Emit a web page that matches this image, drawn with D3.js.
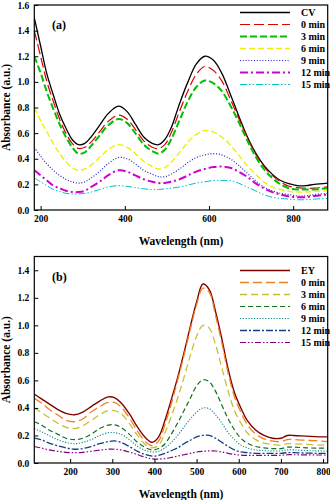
<!DOCTYPE html>
<html><head><meta charset="utf-8">
<script src="https://cdn.jsdelivr.net/npm/d3@7"></script>
<style>body{margin:0;background:#fff}svg{display:block}text{font-family:"Liberation Serif","Times New Roman",serif;font-weight:bold}</style>
</head><body>
<svg id="c" width="330" height="500"></svg>
<script>
// ---------- Panel (a) data ----------
const waveA = [185,200,215,230,245,260,275,290,305,320,340,360,385,405,425,445,465,480,495,510,530,550,570,590,610,630,650,670,690,710,730,750,770,790,810,830,850,882];
const seriesNamesA = ["CV","0 min","3 min","6 min","9 min","12 min","15 min"];
const cvA   = [1.50,1.28,1.06,0.90,0.75,0.64,0.55,0.51,0.52,0.57,0.66,0.75,0.81,0.77,0.67,0.57,0.52,0.51,0.55,0.64,0.83,1.00,1.14,1.20,1.17,1.07,0.91,0.74,0.58,0.45,0.35,0.28,0.23,0.205,0.19,0.19,0.20,0.21];
const a0min = [1.40,1.20,1.00,0.85,0.71,0.60,0.52,0.48,0.49,0.53,0.61,0.69,0.74,0.71,0.63,0.54,0.49,0.48,0.51,0.60,0.77,0.93,1.06,1.12,1.09,1.01,0.87,0.72,0.57,0.44,0.34,0.27,0.22,0.185,0.175,0.17,0.17,0.18];
const a3min = [1.20,1.07,0.92,0.79,0.67,0.57,0.49,0.44,0.45,0.50,0.58,0.66,0.71,0.68,0.60,0.51,0.46,0.44,0.47,0.55,0.70,0.85,0.96,1.01,0.99,0.93,0.82,0.69,0.55,0.42,0.32,0.25,0.20,0.17,0.16,0.16,0.16,0.17];
const a6min = [0.80,0.70,0.61,0.52,0.44,0.38,0.33,0.31,0.32,0.35,0.41,0.47,0.51,0.49,0.44,0.38,0.34,0.32,0.33,0.37,0.45,0.53,0.59,0.62,0.61,0.57,0.51,0.43,0.35,0.28,0.22,0.18,0.16,0.145,0.14,0.14,0.145,0.15];
const a9min = [0.49,0.42,0.36,0.31,0.27,0.24,0.22,0.21,0.22,0.25,0.30,0.36,0.41,0.40,0.36,0.31,0.28,0.26,0.26,0.28,0.32,0.37,0.41,0.43,0.44,0.43,0.40,0.35,0.29,0.23,0.18,0.15,0.13,0.12,0.11,0.11,0.12,0.13];
const a12min= [0.31,0.27,0.23,0.19,0.17,0.15,0.14,0.14,0.15,0.18,0.22,0.27,0.31,0.30,0.27,0.24,0.22,0.21,0.21,0.22,0.24,0.27,0.30,0.32,0.335,0.34,0.33,0.30,0.26,0.21,0.17,0.14,0.12,0.105,0.10,0.10,0.11,0.12];
const a15min= [0.25,0.22,0.19,0.16,0.145,0.13,0.125,0.125,0.13,0.14,0.16,0.18,0.19,0.185,0.175,0.165,0.16,0.16,0.165,0.17,0.18,0.195,0.21,0.22,0.23,0.23,0.23,0.21,0.18,0.15,0.12,0.10,0.09,0.085,0.08,0.08,0.085,0.09];
const xTicksA = [200,400,600,800];
const yTicksA = [0,0.2,0.4,0.6,0.8,1.0,1.2,1.4,1.6];

// ---------- Panel (b) data ----------
const waveB = [115,130,150,170,190,210,230,250,270,290,305,320,340,360,380,395,410,425,440,455,470,485,500,515,530,545,560,575,590,605,620,640,660,680,700,715,730,760,790,811];
const seriesNamesB = ["EY","0 min","3 min","6 min","9 min","12 min","15 min"];
const eyB   = [0.50,0.47,0.43,0.39,0.36,0.35,0.37,0.41,0.45,0.48,0.475,0.44,0.36,0.26,0.18,0.15,0.19,0.31,0.46,0.62,0.80,0.99,1.17,1.30,1.26,1.10,0.90,0.68,0.51,0.40,0.31,0.24,0.20,0.18,0.18,0.20,0.20,0.195,0.19,0.19];
const b0min = [0.47,0.44,0.39,0.35,0.31,0.30,0.32,0.37,0.41,0.44,0.44,0.41,0.33,0.23,0.15,0.125,0.16,0.28,0.43,0.60,0.78,0.97,1.15,1.27,1.24,1.07,0.87,0.65,0.48,0.37,0.28,0.21,0.175,0.16,0.155,0.17,0.17,0.165,0.16,0.155];
const b3min = [0.40,0.37,0.33,0.29,0.26,0.25,0.27,0.31,0.35,0.38,0.38,0.36,0.29,0.20,0.13,0.11,0.13,0.22,0.34,0.47,0.62,0.78,0.92,1.00,0.98,0.86,0.69,0.52,0.38,0.29,0.22,0.17,0.145,0.135,0.13,0.14,0.14,0.135,0.13,0.13];
const b6min = [0.30,0.28,0.24,0.21,0.18,0.17,0.18,0.21,0.25,0.275,0.277,0.26,0.21,0.15,0.11,0.095,0.105,0.14,0.21,0.29,0.38,0.47,0.56,0.605,0.59,0.52,0.42,0.32,0.24,0.18,0.145,0.12,0.11,0.105,0.105,0.115,0.115,0.11,0.108,0.107];
const b9min = [0.25,0.23,0.20,0.17,0.15,0.14,0.15,0.17,0.20,0.22,0.22,0.21,0.17,0.12,0.09,0.08,0.085,0.11,0.15,0.20,0.26,0.32,0.37,0.40,0.395,0.35,0.29,0.22,0.17,0.13,0.11,0.095,0.09,0.088,0.088,0.095,0.095,0.09,0.088,0.087];
const b12min= [0.18,0.17,0.145,0.125,0.11,0.10,0.105,0.12,0.14,0.155,0.16,0.15,0.12,0.085,0.06,0.05,0.055,0.07,0.09,0.11,0.14,0.165,0.19,0.20,0.20,0.18,0.15,0.12,0.095,0.08,0.075,0.07,0.07,0.07,0.07,0.075,0.075,0.072,0.07,0.07];
const b15min= [0.12,0.11,0.095,0.085,0.077,0.075,0.077,0.085,0.093,0.10,0.10,0.095,0.08,0.06,0.04,0.03,0.028,0.032,0.04,0.05,0.06,0.07,0.08,0.085,0.088,0.087,0.08,0.07,0.062,0.057,0.055,0.055,0.055,0.055,0.056,0.06,0.06,0.059,0.058,0.058];
const xTicksB = [200,300,400,500,600,700,800];
const yTicksB = [0,0.2,0.4,0.6,0.8,1.0,1.2,1.4];

// ---------- styles ----------
const stylesA = [
  {c:"#000000",w:1.3,d:null},
  {c:"#e00000",w:1.2,d:"10,4"},
  {c:"#00c000",w:2,d:"7,3"},
  {c:"#f0f000",w:1.4,d:"6,3"},
  {c:"#2020c0",w:1.2,d:"1,1.8"},
  {c:"#d000d0",w:2,d:"8,3,2,3"},
  {c:"#00c0c8",w:1,d:"7,2,1.5,2,1.5,2"}
];
const stylesB = [
  {c:"#800000",w:1.4,d:null},
  {c:"#f08020",w:1.3,d:"9,4"},
  {c:"#c8c030",w:1.3,d:"7,4"},
  {c:"#107020",w:1.2,d:"5,3"},
  {c:"#108890",w:1.1,d:"1.2,1.6"},
  {c:"#104080",w:1.3,d:"7,2,2,2"},
  {c:"#800080",w:1.2,d:"6,2,1.5,2,1.5,2"}
];

const svg = d3.select("#c");
const L = 34.3, R = 327.7;

function panel(opt){
  const g = svg.append("g");
  const x = d3.scaleLinear().domain(opt.xd).range([L,R]);
  const y = d3.scaleLinear().domain(opt.yd).range([opt.bot,opt.top]);
  const cid = "clip"+opt.label;
  svg.append("clipPath").attr("id",cid).append("rect")
    .attr("x",L).attr("y",opt.top).attr("width",R-L).attr("height",opt.bot-opt.top);
  // lines
  const line = d3.line().x(d=>x(d[0])).y(d=>y(d[1])).curve(d3.curveCatmullRom.alpha(0.5));
  const lg = g.append("g").attr("clip-path",`url(#${cid})`);
  opt.series.forEach((vals,i)=>{
    const st = opt.styles[i];
    lg.append("path").datum(opt.wave.map((w,j)=>[w,vals[j]]))
      .attr("d",line).attr("fill","none").attr("stroke",st.c)
      .attr("stroke-width",st.w).attr("stroke-dasharray",st.d);
  });
  // frame
  g.append("rect").attr("x",L).attr("y",opt.top).attr("width",R-L).attr("height",opt.bot-opt.top)
    .attr("fill","none").attr("stroke","#000").attr("stroke-width",1.2);
  // axes
  const xa = g.append("g").attr("transform",`translate(0,${opt.bot})`)
    .call(d3.axisBottom(x).tickValues(opt.xt).tickSize(-4).tickPadding(5).tickFormat(d3.format("d")));
  const ya = g.append("g").attr("transform",`translate(${L},0)`)
    .call(d3.axisLeft(y).tickValues(opt.yt).tickSize(-4).tickPadding(5).tickFormat(d3.format(".1f")));
  [xa,ya].forEach(a=>{
    a.select(".domain").remove();
    a.selectAll("line").attr("stroke","#000").attr("stroke-width",1);
    a.selectAll("text").attr("font-size",9.5).attr("font-family","Liberation Serif").attr("font-weight","bold").attr("fill","#000");
  });
  // titles
  g.append("text").attr("x",(L+R)/2).attr("y",opt.bot+35).attr("text-anchor","middle")
    .attr("font-size",11.5).text("Wavelength (nm)");
  g.append("text").attr("transform",`translate(10,${(opt.top+opt.bot)/2}) rotate(-90)`)
    .attr("text-anchor","middle").attr("font-size",11.5).text("Absorbance (a.u.)");
  g.append("text").attr("x",52).attr("y",opt.top+24).attr("font-size",12).text(`(${opt.label})`);
  // legend
  opt.names.forEach((n,i)=>{
    const st = opt.styles[i];
    const yy = opt.legY + i*12;
    g.append("line").attr("x1",240).attr("x2",290).attr("y1",yy).attr("y2",yy)
      .attr("stroke",st.c).attr("stroke-width",st.w).attr("stroke-dasharray",st.d);
    g.append("text").attr("x",301).attr("y",yy+3.5).attr("font-size",10).text(n);
  });
}

panel({label:"a",xd:[185,882],yd:[0,1.6],top:5,bot:210,wave:waveA,
  series:[cvA,a0min,a3min,a6min,a9min,a12min,a15min],styles:stylesA,names:seriesNamesA,
  xt:xTicksA,yt:yTicksA,legY:12.5});
panel({label:"b",xd:[115,811],yd:[0,1.5],top:256.5,bot:463,wave:waveB,
  series:[eyB,b0min,b3min,b6min,b9min,b12min,b15min],styles:stylesB,names:seriesNamesB,
  xt:xTicksB,yt:yTicksB,legY:270.5});
</script>
</body></html>
